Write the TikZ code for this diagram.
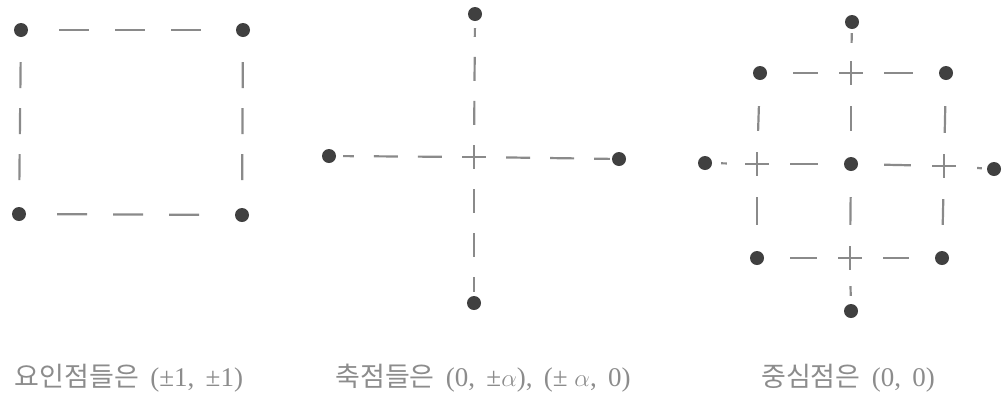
\documentclass[tikz,border=0pt]{standalone}
\usepackage{fontspec}
\setmainfont{Liberation Serif}
\newfontfamily\kr{Noto Sans CJK KR}
\definecolor{dotc}{HTML}{404040}
\definecolor{linec}{HTML}{8A8A8A}
\definecolor{txtc}{HTML}{8C8C8C}
\begin{document}
\begin{tikzpicture}[x=1pt,y=-1pt,
  dotnode/.style={circle,fill=dotc,draw=none,inner sep=0pt,minimum size=14pt},
  crossnode/.style={rectangle,draw=none,inner sep=0pt,minimum size=24pt,
    path picture={\draw[linec,line width=2pt]
      (path picture bounding box.north) -- (path picture bounding box.south)
      (path picture bounding box.west) -- (path picture bounding box.east);}},
  dline/.style={linec,line width=2.2pt},
  sqh/.style={dline,dash pattern=on 30pt off 26pt,shorten <=31pt,shorten >=31pt},
  sqv/.style={dline,dash pattern=on 26pt off 20pt,shorten <=25pt,shorten >=25pt},
  axd/.style={dline,dash pattern=on 24pt off 20pt,dash phase=24pt},
  grd/.style={dline,shorten <=26pt,shorten >=21pt},
  lbl/.style={text=txtc,font=\fontsize{27}{31}\selectfont,inner sep=0pt}
]
\useasboundingbox (0,0) rectangle (1002,400);

% ---- panel 1: factorial points
\node[dotnode] (a1) at (21,30) {};
\node[dotnode] (a2) at (243,30) {};
\node[dotnode] (a3) at (19,214) {};
\node[dotnode] (a4) at (242,215) {};
\draw[sqh] (a1) -- (a2);
\draw[sqh] (a3) -- (a4);
\draw[sqv] (a1) -- (a3);
\draw[sqv] (a2) -- (a4);
\node[lbl] (l1) at (129,378) {{\kr 요인점들은}\, (±1,\, ±1)};

% ---- panel 2: axial points
\node[crossnode] (c) at (474,157) {};
\node[dotnode] (t) at (475,14) {};
\node[dotnode] (b) at (474,303) {};
\node[dotnode] (l) at (329,156) {};
\node[dotnode] (r) at (619,159) {};
\draw[axd,shorten >=7pt] (c) -- (t);
\draw[axd,shorten >=4pt] (c) -- (b);
\draw[axd,shorten >=7pt] (c) -- (l);
\draw[axd,shorten >=2pt] (c) -- (r);
\node[lbl] (l2) at (483,378) {{\kr 축점들은}\, (0,\, ±$\alpha$),\, (± $\alpha$,\, 0)};

% ---- panel 3: center point
\node[dotnode] (z) at (851,164) {};
\node[dotnode] (tl) at (760,73) {};
\node[crossnode] (tm) at (851,73) {};
\node[dotnode] (tr) at (946,73) {};
\node[crossnode] (ml) at (757,164) {};
\node[crossnode] (mr) at (944,166) {};
\node[dotnode] (bl) at (757,258) {};
\node[crossnode] (bm) at (850,258) {};
\node[dotnode] (br) at (942,258) {};
\node[dotnode] (t2) at (852,22) {};
\node[dotnode] (b2) at (851,311) {};
\node[dotnode] (l2d) at (705,163) {};
\node[dotnode] (r2d) at (994,169) {};
\draw[grd] (tl) -- (tm);
\draw[grd] (tr) -- (tm);
\draw[grd] (tl) -- (ml);
\draw[grd] (bl) -- (ml);
\draw[grd] (tr) -- (mr);
\draw[grd] (br) -- (mr);
\draw[grd] (bl) -- (bm);
\draw[grd] (br) -- (bm);
\draw[grd] (z) -- (ml);
\draw[grd] (z) -- (mr);
\draw[grd] (z) -- (tm);
\draw[grd] (z) -- (bm);
\draw[dline,shorten <=9pt,shorten >=18pt] (l2d) -- (ml);
\draw[dline,shorten <=5pt,shorten >=21pt] (r2d) -- (mr);
\draw[dline,shorten <=4pt,shorten >=18pt] (t2) -- (tm);
\draw[dline,shorten <=8pt,shorten >=16pt] (b2) -- (bm);
\node[lbl] (l3) at (848,378) {{\kr 중심점은}\, (0,\, 0)};
\end{tikzpicture}
\end{document}
